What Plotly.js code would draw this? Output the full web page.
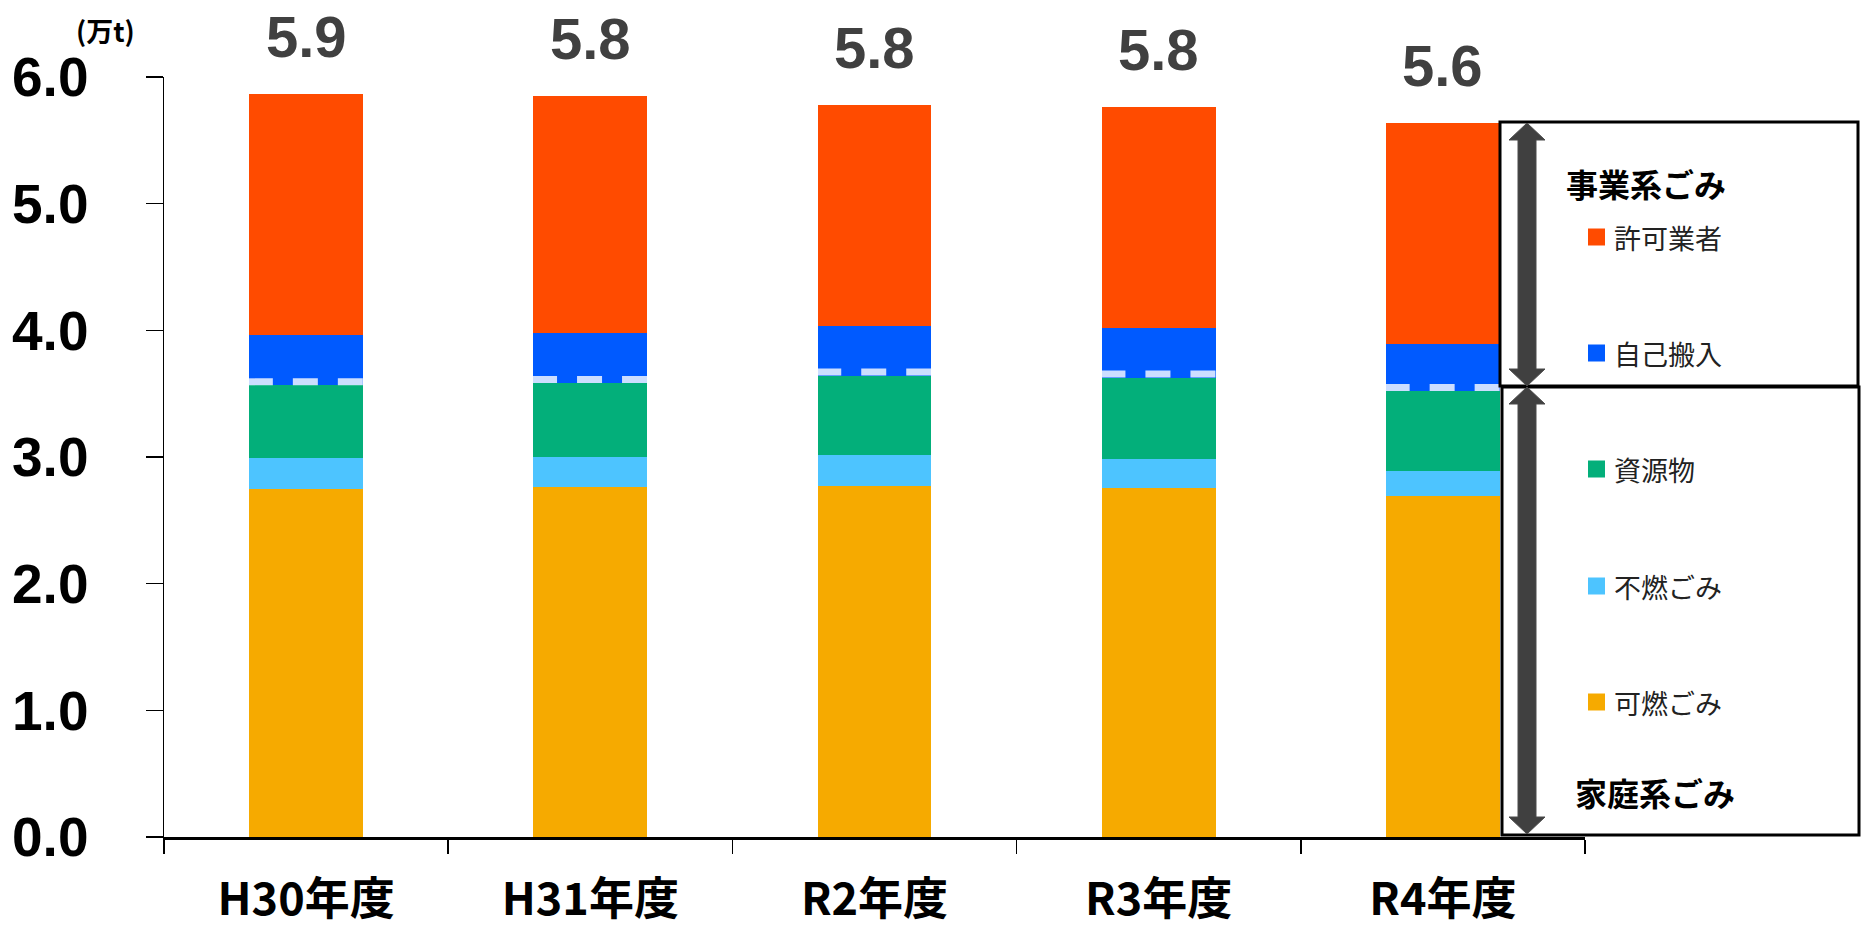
<!DOCTYPE html>
<html>
<head>
<meta charset="utf-8">
<script src="https://cdn.plot.ly/plotly-3.0.1.min.js"></script>
<style>html,body{margin:0;padding:0;background:#fff;}#chart{width:1865px;height:931px;}</style>
</head>
<body>
<div id="chart"></div>
<script>
// ---- data (万t) ----
const categories = ['H30年度', 'H31年度', 'R2年度', 'R3年度', 'R4年度'];
const kanen   = [2.750, 2.761, 2.771, 2.758, 2.695]; // 可燃ごみ
const funen   = [0.240, 0.237, 0.248, 0.226, 0.197]; // 不燃ごみ
const shigen  = [0.576, 0.587, 0.624, 0.643, 0.629]; // 資源物
const jiko    = [0.395, 0.395, 0.392, 0.395, 0.372]; // 自己搬入
const kyoka   = [1.901, 1.869, 1.741, 1.738, 1.740]; // 許可業者
const seriesNames = ['可燃ごみ', '不燃ごみ', '資源物', '自己搬入', '許可業者'];
const yTickVals = [0, 1, 2, 3, 4, 5, 6];
const yTickText = ['0.0', '1.0', '2.0', '3.0', '4.0', '5.0', '6.0'];
const groupHeaders = ['事業系ごみ', '家庭系ごみ'];
const unitLabel = '(万t)';

const colors = ['#F6AA00', '#4DC4FF', '#03AF7A', '#005AFF', '#FF4B00'];
const seriesData = [kanen, funen, shigen, jiko, kyoka];

// ---- layout geometry helpers ----
const W = 1865, H = 931, ML = 164, MR = 280, MT = 77, MB = 94;
const PW = W - ML - MR, PH = H - MT - MB;
const fx = x => (x - ML) / PW;
const fy = y => (H - MB - y) / PH;

const traces = seriesData.map((vals, k) => ({
  type: 'bar',
  x: categories,
  y: vals,
  name: seriesNames[k],
  width: 0.4,
  marker: {color: colors[k], line: {width: 0}},
  hoverinfo: 'skip'
}));

const household = categories.map((c, i) => kanen[i] + funen[i] + shigen[i]);
const totals = categories.map((c, i) => household[i] + jiko[i] + kyoka[i]);

const shapes = [];
// dashed boundary between household and business waste
categories.forEach((c, i) => {
  shapes.push({
    type: 'line', xref: 'x', yref: 'y', ysizemode: 'pixel', yanchor: household[i],
    x0: i - 0.205, x1: i + 0.205, y0: 3.5, y1: 3.5,
    line: {color: 'rgba(255,255,255,0.8)', width: 7, dash: '25px,20px'}
  });
});
// legend boxes
shapes.push({type: 'rect', xref: 'paper', yref: 'paper', x0: fx(1500), x1: fx(1858), y0: fy(386), y1: fy(122),
  line: {color: '#000', width: 3}, fillcolor: 'rgba(0,0,0,0)'});
shapes.push({type: 'rect', xref: 'paper', yref: 'paper', x0: fx(1502), x1: fx(1859), y0: fy(835), y1: fy(387),
  line: {color: '#000', width: 3}, fillcolor: 'rgba(0,0,0,0)'});
// double arrows
function arrowPath(cx, yt, yb) {
  const hs = 9, hh = 18, hl = 17;
  const pts = [[cx, yt], [cx + hh, yt + hl], [cx + hs, yt + hl], [cx + hs, yb - hl], [cx + hh, yb - hl], [cx, yb],
    [cx - hh, yb - hl], [cx - hs, yb - hl], [cx - hs, yt + hl], [cx - hh, yt + hl]];
  return 'M ' + pts.map(p => fx(p[0]) + ',' + fy(p[1])).join(' L ') + ' Z';
}
shapes.push({type: 'path', xref: 'paper', yref: 'paper', path: arrowPath(1527, 123, 386),
  fillcolor: '#404040', line: {color: '#4a4a4a', width: 1}});
shapes.push({type: 'path', xref: 'paper', yref: 'paper', path: arrowPath(1527, 387, 834),
  fillcolor: '#404040', line: {color: '#4a4a4a', width: 1}});

// legend items (manual)
const legendOrder = [4, 3, 2, 1, 0];
const legendY = [237, 353, 469, 586, 702];
const annotations = [];
legendOrder.forEach((k, j) => {
  const cy = legendY[j];
  shapes.push({type: 'rect', xref: 'paper', yref: 'paper', x0: fx(1588), x1: fx(1605), y0: fy(cy + 8.5), y1: fy(cy - 8.5),
    fillcolor: colors[k], line: {width: 0}});
  annotations.push({xref: 'paper', yref: 'paper', x: fx(1612), y: fy(cy), xanchor: 'left', yanchor: 'middle',
    text: seriesNames[k], showarrow: false,
    font: {family: 'Noto Sans CJK JP', size: 27, color: '#222'}});
});
annotations.push({xref: 'paper', yref: 'paper', x: fx(1564), y: fy(183), xanchor: 'left', yanchor: 'middle',
  text: '<b>' + groupHeaders[0] + '</b>', showarrow: false,
  font: {family: 'Noto Sans CJK JP', size: 32, color: '#000'}});
annotations.push({xref: 'paper', yref: 'paper', x: fx(1573), y: fy(792), xanchor: 'left', yanchor: 'middle',
  text: '<b>' + groupHeaders[1] + '</b>', showarrow: false,
  font: {family: 'Noto Sans CJK JP', size: 32, color: '#000'}});
// unit
annotations.push({xref: 'paper', yref: 'paper', x: fx(105), y: fy(31), xanchor: 'center', yanchor: 'middle',
  text: '<b>' + unitLabel + '</b>', showarrow: false,
  font: {family: 'Noto Sans CJK JP', size: 27, color: '#000'}});
// totals
categories.forEach((c, i) => {
  annotations.push({xref: 'x', yref: 'y', x: c, y: totals[i], yanchor: 'middle', yshift: 58,
    text: '<b>' + totals[i].toFixed(1) + '</b>', showarrow: false,
    font: {family: 'Liberation Sans, Arial, sans-serif', size: 58, color: '#404040'}});
});

const layout = {
  width: W, height: H,
  margin: {l: ML, r: MR, t: MT, b: MB, pad: 0},
  paper_bgcolor: '#fff', plot_bgcolor: '#fff',
  barmode: 'stack',
  showlegend: false,
  xaxis: {
    type: 'category',
    tickson: 'boundaries',
    ticks: 'outside', ticklen: 14, tickwidth: 1.5, tickcolor: '#000',
    showline: true, linecolor: '#000', linewidth: 2.5,
    showgrid: false, zeroline: false,
    ticklabelstandoff: 21,
    tickfont: {family: 'Noto Sans CJK JP', size: 45, color: '#000', weight: 'bold'},
    fixedrange: true
  },
  yaxis: {
    range: [0, 6],
    tickvals: yTickVals, ticktext: yTickText,
    ticks: 'outside', ticklen: 17, tickwidth: 1.5, tickcolor: '#000',
    showline: true, linecolor: '#000', linewidth: 1.5,
    showgrid: false, zeroline: false,
    ticklabelstandoff: 46,
    tickfont: {family: 'Liberation Sans, Arial, sans-serif', size: 55, color: '#000', weight: 'bold'},
    fixedrange: true
  },
  shapes: shapes,
  annotations: annotations
};

Plotly.newPlot('chart', traces, layout, {displayModeBar: false, staticPlot: true});
</script>
</body>
</html>
